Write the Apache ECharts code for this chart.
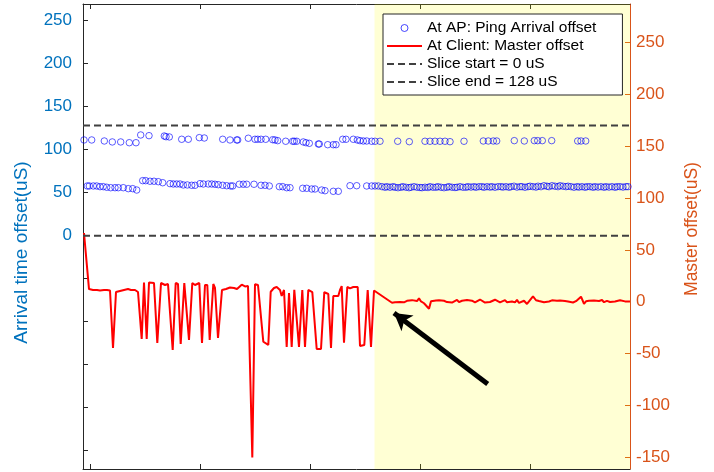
<!DOCTYPE html>
<html><head><meta charset="utf-8">
<script src="https://cdn.jsdelivr.net/npm/echarts@6/dist/echarts.min.js"></script>
<style>html,body{margin:0;padding:0;background:#fff}#c{width:714px;height:472px}</style>
</head><body><div id="c"></div>
<script>
// ---- data ----
const apUpper = [[-6,111.3],[1.7,111.3],[14.3,110.1],[22.3,109.0],[30.7,109.0],[39.3,108.1],[46,108.1],[50.7,117.1],[59,116.3],[74.3,115.9],[76,115.1],[79.3,114.8],[91.7,112.1],[98.3,112.1],[109.3,114.0],[114.3,113.6],[132.7,112.1],[140,111.3],[146.7,111.3],[147.7,111.3],[158.3,113.3],[165,112.1],[167.7,112.1],[171,112.1],[175.7,112.1],[182.7,111.6],[185,111.3],[187.7,110.5],[195.7,109.8],[202.7,109.8],[204.3,109.8],[206.7,109.8],[213.3,109.0],[216,108.1],[219.3,107.4],[228.3,106.6],[229.3,106.6],[237.7,105.8],[243.3,105.8],[246,105.8],[252.7,112.1],[256,112.1],[263.3,112.1],[267.3,111.3],[270,110.5],[273.3,110.1],[276.7,110.1],[281.7,109.8],[285,109.8],[290,109.8],[307.7,109.8],[319.3,109.3],[335,109.8],[340,109.8],[345,109.8],[350,109.8],[355,109.8],[360,109.3],[374,109.8],[393.3,110.1],[398.3,110.1],[403.3,110.1],[406.7,110.1],[424.3,110.5],[434.3,110.1],[444.3,110.5],[447.7,110.5],[452.3,110.5],[461.7,110.5],[487.7,110.1],[491,110.1],[495.7,110.1]];
const apLower = [[-2.7,57.8],[-0.7,57.8],[3.3,57.8],[6.7,57.8],[10,57.0],[13.3,57.0],[16.7,56.3],[20.7,55.8],[25,55.8],[28.3,55.8],[33.3,55.8],[38.3,54.7],[42.7,54.7],[46.7,53.1],[52.7,64.0],[55.7,64.0],[60,63.3],[64,63.3],[68.3,62.8],[72.7,61.6],[80,60.5],[83.3,60.1],[86.7,60.1],[90,60.1],[93.3,59.0],[97.3,59.0],[101.7,58.6],[105,58.6],[110,60.5],[113.3,60.1],[118.3,60.1],[121.7,60.1],[125,59.8],[128.3,59.3],[132.7,58.6],[136.7,58.1],[140.7,57.8],[142.7,57.8],[149.3,59.8],[153.3,59.8],[156.7,59.8],[164,59.8],[171,58.6],[175,58.6],[179.3,57.8],[189.3,57.0],[192.7,57.0],[196.7,55.8],[200,55.8],[212.7,55.1],[216.7,55.1],[221.7,54.3],[225,54.3],[231.7,53.1],[235,52.3],[243.3,51.6],[248.3,51.6],[260,58.1],[266.7,58.1],[276.7,57.8],[281.7,57.8],[285,57.8],[288.3,57.8],
[292,57.0],[295,56.3],[297,57.0],[300,56.3],[303,57.0],[305,56.3],[308,55.8],[311,56.3],[313,57.0],[316,56.3],[319,55.8],[321,56.3],[324,57.0],[327,56.3],[330,56.0],[332,55.8],[335,56.3],[338,56.0],[340,57.0],[343,56.3],[346,56.3],[348,57.0],[351,56.3],[354,55.8],[357,56.3],[359,57.0],[362,56.3],[365,56.0],[367,56.3],[370,57.0],[373,56.3],[376,56.3],[378,57.0],[381,56.5],[384,57.0],[386,56.3],[389,57.0],[392,57.0],[394,56.3],[397,57.0],[400,56.5],[402,57.0],[405,56.3],[408,57.0],[411,57.0],[413,56.5],[416,57.0],[419,56.3],[421,57.0],[424,57.5],[427,56.5],[430,57.0],[432,57.0],[435,56.3],[438,57.0],[440,57.5],[443,57.0],[446,56.5],[448,57.5],[451,57.0],[454,58.1],[457,57.5],[459,57.0],[462,58.1],[465,57.5],[468,57.0],[470,58.1],[473,57.5],[476,57.0],[478,57.5],[481,57.0],[484,56.3],[487,57.0],[489,56.5],[492,57.0],[495,56.3],[497,57.0],[500,57.0],[503,56.3],[505,57.0],[508,56.5],[511,57.0],[514,56.3],[516,57.0],[519,56.5],[522,57.0],[525,56.3],[527,57.0],[530,57.0],[533,56.5],[536,57.0],[538,57.0]];
const clientOffset = [[-6,66.2],[-1,12.2],[3,11.3],[5,12.0],[7,11.3],[10,10.8],[12,9.8],[14,11.3],[17,11.3],[20,10.8],[23,-44.6],[26,9.3],[30,10.3],[34,11.3],[38,12.2],[41,11.3],[45,11.3],[48,9.3],[51.7,-36.0],[54,18.5],[56.7,-36.0],[59,18.5],[64,18.0],[67.3,-39.8],[71,18.0],[75,16.1],[78,17.1],[80,17.1],[82.7,-46.6],[85.7,18.0],[88,17.1],[90.7,-40.8],[94.3,18.0],[96,17.1],[99,-36.9],[102.3,18.0],[105,16.1],[107,17.1],[109.3,18.0],[112,-39.8],[115,16.1],[117.3,16.1],[119.7,-36.9],[123.3,17.1],[125,13.2],[128,-35.0],[132,11.3],[136,12.2],[140,13.7],[144,13.2],[147,12.2],[151.7,16.4],[155,14.7],[158,15.1],[160,15.1],[162.3,-150.2],[165,16.8],[168,16.1],[170,16.1],[173.3,-38.6],[178.3,-41.7],[180.7,9.6],[184,13.2],[186.7,14.2],[190,11.3],[191.7,5.5],[194,11.3],[196.7,-43.7],[199,8.4],[201.7,-43.7],[204.3,11.5],[209,-43.7],[212.3,11.3],[215,-43.7],[218.3,11.3],[222.3,9.3],[226.7,-45.6],[231,-45.6],[234.3,9.3],[238.3,7.4],[241,-44.6],[243.3,5.5],[248.3,5.5],[250,11.3],[251.7,15.1],[254,-39.5],[257.3,14.2],[260,12.9],[263.3,14.2],[267.7,14.2],[270,-42.7],[274.3,-41.7],[277.7,11.3],[281,-43.7],[284,10.8],[302,-1.0],
[305,-0.5],[307,1.2],[310,-0.3],[312,0.9],[314,-0.6],[317,0.8],[319,0.1],[322,1.5],[324,-0.4],[327,0.6],[329,3.2],[331,0.2],[334,-1.5],[336,-0.2],[339,-6.8],[341,0.5],[343,2.0],[346,1.2],[349,1.4],[351,0.6],[354,0.9],[357,-0.4],[359,0.8],[362,-0.8],[364,0.7],[367,1.8],[369,-0.5],[372,0.9],[374,-0.2],[377,1.6],[379,0.3],[382,1.0],[385,-0.6],[387,0.8],[390,2.1],[392,0.5],[395,-0.8],[397,-1.6],[400,-0.3],[402,0.6],[405,1.9],[407,0.4],[410,-0.6],[412,0.3],[415,1.5],[417,-0.5],[419,0.8],[422,0.2],[425,-0.7],[427,1.7],[429,-1.2],[431,0.6],[434,0.9],[437,-2.2],[440,1.5],[443,5.2],[446,1.4],[449,0.6],[451,1.0],[454,-0.5],[456,0.8],[459,0.2],[462,1.3],[464,-0.6],[467,0.9],[470,1.2],[472,-0.4],[475,0.6],[478,0.1],[480,1.4],[483,-0.8],[486,0.5],[488,1.0],[491,4.8],[494,-2.0],[496,0.4],[499,0.9],[501,0.3],[504,1.1],[506,-0.2],[509,0.7],[512,1.6],[514,-0.5],[517,0.8],[520,-0.3],[522,1.0],[525,0.2],[527,-0.6],[530,1.3],[532,2.6],[535,0.3],[537,1.0],[540,0.2]];
const sliceStart = 0;
const sliceEnd = 128;
const xRange = [-7, 540];
const xTicks = [0, 110, 220, 330, 440];
const leftRange = [-271.3, 269.4];
const leftTicks = [-250, -200, -150, -100, -50, 0, 50, 100, 150, 200, 250];
const leftLabels = [0, 50, 100, 150, 200, 250];
const rightRange = [-161.3, 287];
const rightTicks = [-150, -100, -50, 0, 50, 100, 150, 200, 250];
const highlightRange = [284.5, 540];
const arrowFrom = [397.7, -79.3];
const arrowTo = [304, -11.0];
const names = ['At AP: Ping Arrival offset', 'At Client: Master offset', 'Slice start = 0 uS', 'Slice end = 128 uS'];

// ---- chart ----
const FONT = 'Liberation Sans, Arial, sans-serif';
const AX = '#262626', BLUE = '#0072BD', ORANGE = '#D95319';
const chart = echarts.init(document.getElementById('c'), null, {renderer: 'canvas'});
function xAxisDef(pos) {
  return {
    type: 'value', position: pos, min: xRange[0], max: xRange[1],
    axisLine: {show: true, onZero: false, lineStyle: {color: AX, width: 1}},
    axisTick: {show: true, inside: true, length: 5, customValues: xTicks, lineStyle: {color: AX}},
    axisLabel: {show: false}, splitLine: {show: false}
  };
}
chart.setOption({
  animation: false,
  backgroundColor: '#fff',
  grid: {left: 83, right: 84, top: 4, bottom: 3, containLabel: false},
  legend: {
    data: [
      {name: names[0], itemStyle: {color: 'rgba(0,0,0,0)', borderColor: '#0000ff', borderWidth: 0.9}},
      {name: names[1], itemStyle: {opacity: 0}},
      {name: names[2], itemStyle: {opacity: 0}},
      {name: names[3], itemStyle: {opacity: 0}}
    ],
    orient: 'vertical', left: 383, top: 14,
    padding: [5, 26, 4, 3], itemGap: 0, itemWidth: 35, itemHeight: 7,
    backgroundColor: '#fff', borderColor: AX, borderWidth: 1, borderRadius: 0,
    selectedMode: false, z: 20,
    textStyle: {fontSize: 15.5, color: '#000', fontFamily: FONT, lineHeight: 18}
  },
  xAxis: [xAxisDef('bottom'), xAxisDef('top')],
  yAxis: [{
    type: 'value', position: 'left', min: leftRange[0], max: leftRange[1],
    axisLine: {show: true, onZero: false, lineStyle: {color: AX}},
    axisTick: {show: true, inside: true, length: 5, customValues: leftTicks, lineStyle: {color: AX}},
    axisLabel: {customValues: leftLabels, color: BLUE, fontSize: 17, fontFamily: FONT, margin: 11},
    splitLine: {show: false},
    name: 'Arrival time offset(uS)', nameLocation: 'middle', nameRotate: 90, nameGap: 52,
    nameTextStyle: {color: BLUE, fontSize: 19, fontFamily: FONT, padding: [0, 32, 0, 0]}
  }, {
    type: 'value', position: 'right', min: rightRange[0], max: rightRange[1],
    axisLine: {show: true, onZero: false, lineStyle: {color: ORANGE}},
    axisTick: {show: true, inside: true, length: 5, customValues: rightTicks, lineStyle: {color: ORANGE}},
    axisLabel: {customValues: rightTicks, color: ORANGE, fontSize: 17, fontFamily: FONT, margin: 6},
    splitLine: {show: false},
    name: 'Master offset(uS)', nameLocation: 'middle', nameRotate: 90, nameGap: 53,
    nameTextStyle: {color: ORANGE, fontSize: 17.5, fontFamily: FONT, padding: [0, 0, 0, 15]}
  }],
  series: [{
    name: names[0], type: 'scatter', xAxisIndex: 0, yAxisIndex: 0,
    data: apUpper.concat(apLower), symbol: 'circle', symbolSize: 6.5, z: 2,
    itemStyle: {color: 'rgba(0,0,0,0)', borderColor: '#0000ff', borderWidth: 0.8}
  }, {
    name: names[1], type: 'line', xAxisIndex: 0, yAxisIndex: 1,
    data: clientOffset, symbol: 'none', z: 2,
    lineStyle: {color: '#ff0000', width: 2}, itemStyle: {color: '#ff0000'},
    markLine: {
      silent: true, symbol: ['none', 'arrow'], symbolSize: [15, 17],
      label: {show: false},
      lineStyle: {color: '#000', width: 5, type: 'solid'},
      data: [[{coord: arrowFrom}, {coord: arrowTo}]]
    }
  }, {
    name: names[2], type: 'line', xAxisIndex: 0, yAxisIndex: 0,
    data: [[xRange[0], sliceStart], [xRange[1], sliceStart]], symbol: 'none', z: 2,
    lineStyle: {color: '#404040', width: 2, type: [7, 4]}, itemStyle: {color: '#404040'}
  }, {
    name: names[3], type: 'line', xAxisIndex: 0, yAxisIndex: 0,
    data: [[xRange[0], sliceEnd], [xRange[1], sliceEnd]], symbol: 'none', z: 2,
    lineStyle: {color: '#404040', width: 2, type: [7, 4]}, itemStyle: {color: '#404040'}
  }, {
    name: 'highlight', type: 'line', xAxisIndex: 0, yAxisIndex: 0,
    data: [], symbol: 'none', z: 5, silent: true,
    markArea: {
      silent: true, itemStyle: {color: 'rgba(255,255,0,0.17)'},
      data: [[{xAxis: highlightRange[0]}, {xAxis: highlightRange[1]}]]
    }
  }]
});
</script></body></html>
